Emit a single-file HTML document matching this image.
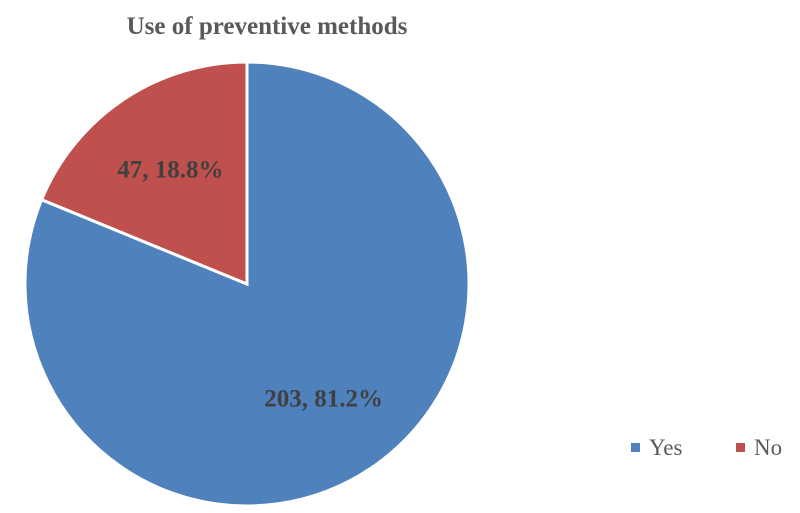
<!DOCTYPE html>
<html><head><meta charset="utf-8"><style>
body{margin:0;background:#fff;}
svg{display:block;font-family:"Liberation Serif",serif;}
</style></head><body>
<svg width="800" height="513" viewBox="0 0 800 513">
<text x="267" y="34" text-anchor="middle" font-size="25" font-weight="bold" fill="#595959">Use of preventive methods</text>
<g id="slices"></g>
<g id="labels"></g>
<g>
<rect x="631" y="443" width="9" height="9" fill="#4f81bd"/>
<text x="649" y="455" font-size="23" fill="#595959">Yes</text>
<rect x="736" y="443" width="9" height="9" fill="#c0504d"/>
<text x="754" y="455" font-size="23" fill="#595959">No</text>
</g>
</svg>
<script>
const categories=["Yes","No"];
const values=[203,47];
const percentLabels=["81.2%","18.8%"];
const colors=["#4f81bd","#c0504d"];
const cx=247,cy=284,r=222;
const total=values.reduce((a,b)=>a+b,0);
const ns="http://www.w3.org/2000/svg";
const gS=document.getElementById('slices'),gL=document.getElementById('labels');
let a0=0;
values.forEach((v,i)=>{
  const a1=a0+v/total*2*Math.PI;
  const p=(a)=>[cx+r*Math.sin(a),cy-r*Math.cos(a)];
  const [x0,y0]=p(a0),[x1,y1]=p(a1);
  const large=(a1-a0)>Math.PI?1:0;
  const path=document.createElementNS(ns,'path');
  path.setAttribute('d',`M${cx},${cy}L${x0},${y0}A${r},${r} 0 ${large} 1 ${x1},${y1}Z`);
  path.setAttribute('fill',colors[i]);
  path.setAttribute('stroke','#fff');
  path.setAttribute('stroke-width','3');
  
  
  gS.appendChild(path);
  const am=(a0+a1)/2, lr=r*0.62;
  const t=document.createElementNS(ns,'text');
  t.setAttribute('x',cx+lr*Math.sin(am));
  t.setAttribute('y',cy-lr*Math.cos(am)+8);
  t.setAttribute('text-anchor','middle');
  t.setAttribute('font-size','25');
  t.setAttribute('font-weight','bold');
  t.setAttribute('fill','#404040');
  
  
  t.textContent=values[i]+', '+percentLabels[i];
  gL.appendChild(t);
  a0=a1;
});
</script>
</body></html>
